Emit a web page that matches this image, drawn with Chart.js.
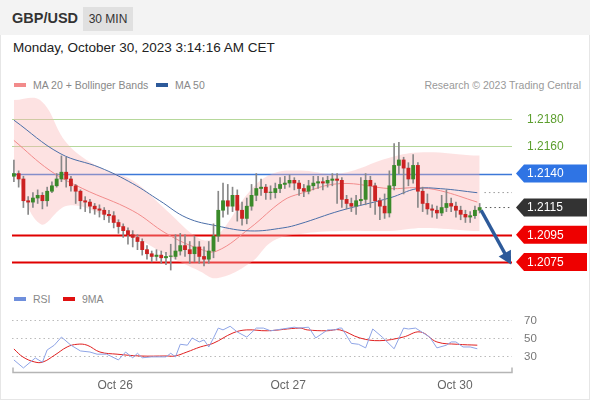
<!DOCTYPE html>
<html><head><meta charset="utf-8">
<script src="https://cdn.jsdelivr.net/npm/chart.js@4/dist/chart.umd.min.js"></script>
<style>
body{margin:0;width:590px;height:400px;overflow:hidden;font-family:Arial,"Liberation Sans",sans-serif;background:#fff}
#frame{position:absolute;left:0;top:0;width:588px;height:398px;border:1px solid #e6e6e6}
#hdr{position:absolute;left:0;top:0;width:590px;height:35px;background:#f3f3f3}
.t{position:absolute;white-space:nowrap}
canvas{position:absolute;left:0}
</style></head><body>
<div id="frame"></div>
<div id="hdr"></div>
<div class="t" style="left:12px;top:10px;font-size:14.5px;font-weight:bold;color:#333">GBP/USD</div>
<div class="t" style="left:83px;top:7px;width:50px;height:24px;background:#e0e0e0;font-size:12px;color:#333;line-height:24px;text-align:center">30 MIN</div>
<div class="t" style="left:13px;top:40px;font-size:13.5px;color:#222">Monday, October 30, 2023 3:14:16 AM CET</div>
<div class="t" style="left:14px;top:83px;width:12px;height:4px;background:#f28b8b"></div>
<div class="t" style="left:33px;top:79px;font-size:10.5px;color:#888">MA 20 + Bollinger Bands</div>
<div class="t" style="left:156px;top:83px;width:12px;height:4px;background:#2d5a9a"></div>
<div class="t" style="left:175px;top:79px;font-size:10.5px;color:#888">MA 50</div>
<div class="t" style="right:9px;top:79px;font-size:10.5px;color:#999">Research © 2023 Trading Central</div>
<div class="t" style="left:14px;top:297px;width:12px;height:4px;background:#6f8fdc"></div>
<div class="t" style="left:33px;top:293px;font-size:10.5px;color:#888">RSI</div>
<div class="t" style="left:63px;top:297px;width:12px;height:4px;background:#e01010"></div>
<div class="t" style="left:82px;top:293px;font-size:10.5px;color:#888">9MA</div>
<canvas id="main" width="590" height="190" style="top:95px"></canvas>
<canvas id="rsi" width="590" height="100" style="top:300px"></canvas>
<script>
const opens=[1.2138,1.2140,1.2136,1.2120,1.2119,1.2122,1.2124,1.2120,1.2127,1.2131,
1.2136,1.2141,1.2136,1.2131,1.2127,1.2120,1.2119,1.2116,1.2114,1.2113,
1.2110,1.2109,1.2104,1.2101,1.2098,1.2095,1.2093,1.2090,1.2084,1.2081,
1.2079,1.2080,1.2078,1.2079,1.2079,1.2083,1.2087,1.2084,1.2081,1.2086,
1.2079,1.2077,1.2083,1.2094,1.2113,1.2120,1.2116,1.2124,1.2113,1.2107,
1.2116,1.2124,1.2129,1.2130,1.2126,1.2126,1.2129,1.2132,1.2133,1.2135,
1.2133,1.2129,1.2127,1.2131,1.2133,1.2134,1.2133,1.2135,1.2136,1.2135,
1.2121,1.2118,1.2116,1.2120,1.2121,1.2135,1.2131,1.2120,1.2116,1.2111,
1.2131,1.2146,1.2150,1.2144,1.2136,1.2146,1.2127,1.2118,1.2114,1.2113,
1.2111,1.2115,1.2118,1.2116,1.2113,1.2110,1.2108,1.2109,1.2113];
const closes=[1.2140,1.2136,1.2120,1.2119,1.2122,1.2124,1.2120,1.2127,1.2131,1.2136,
1.2141,1.2136,1.2131,1.2127,1.2120,1.2119,1.2116,1.2114,1.2113,1.2110,
1.2109,1.2104,1.2101,1.2098,1.2095,1.2093,1.2090,1.2084,1.2081,1.2079,
1.2080,1.2078,1.2079,1.2079,1.2083,1.2087,1.2084,1.2081,1.2086,1.2079,
1.2077,1.2083,1.2094,1.2113,1.2120,1.2116,1.2124,1.2113,1.2107,1.2116,
1.2124,1.2129,1.2130,1.2126,1.2126,1.2129,1.2132,1.2133,1.2135,1.2133,
1.2129,1.2127,1.2131,1.2133,1.2134,1.2133,1.2135,1.2136,1.2135,1.2121,
1.2118,1.2116,1.2120,1.2121,1.2135,1.2131,1.2120,1.2116,1.2111,1.2131,
1.2146,1.2150,1.2144,1.2136,1.2146,1.2127,1.2118,1.2114,1.2113,1.2111,
1.2115,1.2118,1.2116,1.2113,1.2110,1.2108,1.2109,1.2113,1.2115];
const highs=[1.2150,1.2142,1.2138,1.2123,1.2126,1.2128,1.2126,1.2130,1.2134,1.2140,
1.2153,1.2152,1.2138,1.2132,1.2128,1.2123,1.2121,1.2118,1.2117,1.2115,
1.2113,1.2112,1.2106,1.2103,1.2100,1.2098,1.2095,1.2092,1.2087,1.2083,
1.2084,1.2083,1.2082,1.2088,1.2095,1.2096,1.2095,1.2090,1.2094,1.2090,
1.2086,1.2090,1.2103,1.2127,1.2133,1.2132,1.2130,1.2128,1.2119,1.2122,
1.2132,1.2140,1.2136,1.2132,1.2131,1.2133,1.2137,1.2138,1.2139,1.2137,
1.2135,1.2132,1.2135,1.2138,1.2138,1.2137,1.2138,1.2140,1.2140,1.2137,
1.2124,1.2122,1.2124,1.2137,1.2140,1.2138,1.2133,1.2122,1.2125,1.2142,
1.2162,1.2163,1.2152,1.2148,1.2154,1.2148,1.2130,1.2125,1.2117,1.2116,
1.2124,1.2128,1.2122,1.2119,1.2116,1.2113,1.2112,1.2116,1.2118];
const lows=[1.2134,1.2130,1.2115,1.2110,1.2115,1.2118,1.2114,1.2116,1.2126,1.2130,
1.2134,1.2130,1.2127,1.2118,1.2114,1.2112,1.2111,1.2110,1.2108,1.2106,
1.2104,1.2100,1.2096,1.2093,1.2088,1.2086,1.2084,1.2080,1.2077,1.2075,
1.2076,1.2074,1.2073,1.2069,1.2077,1.2080,1.2079,1.2074,1.2075,1.2074,
1.2072,1.2074,1.2078,1.2090,1.2108,1.2110,1.2112,1.2105,1.2102,1.2103,
1.2113,1.2120,1.2124,1.2121,1.2121,1.2122,1.2126,1.2129,1.2130,1.2128,
1.2124,1.2123,1.2125,1.2128,1.2129,1.2128,1.2130,1.2131,1.2118,1.2115,
1.2114,1.2112,1.2110,1.2117,1.2117,1.2115,1.2110,1.2106,1.2107,1.2108,
1.2128,1.2140,1.2125,1.2131,1.2133,1.2115,1.2112,1.2110,1.2108,1.2107,
1.2109,1.2112,1.2112,1.2108,1.2106,1.2104,1.2104,1.2107,1.2111];
const ma50X=[0,9.7,18.1,25,30.7,36.4,42.7,49.7,56.6,60.2,68.6,79.2,84.8,89.7,97.5];
const ma50V=[1.21793,1.21548,1.21444,1.21326,1.21200,1.21074,1.21015,1.20978,1.21000,1.21030,1.21126,1.21222,1.21289,1.21289,1.21259];
const ma20X=[0,7.6,14.5,25,32.2,39.2,42.7,49.7,56.6,60.2,68.6,79.2,84.8,89.7,97.5];
const ma20V=[1.21644,1.21422,1.21289,1.21126,1.20956,1.20844,1.20830,1.21000,1.21200,1.21252,1.21326,1.21289,1.21296,1.21274,1.21190];
const bbX=[0,5.5,11.2,18.1,25,32.2,39.2,42.7,49.7,54.5,60.2,68.6,79.2,86.1,96.6,98];
const bbUpper=[1.21941,1.21941,1.21622,1.21444,1.21348,1.21126,1.20919,1.20941,1.21274,1.21400,1.21422,1.21400,1.21519,1.21556,1.21533,1.21533];
const bbLower=[1.21444,1.21030,1.21163,1.21104,1.20950,1.20800,1.20680,1.20630,1.20741,1.20904,1.20956,1.20978,1.20978,1.21000,1.20978,1.20978];
const levels=[1.2180,1.2160,1.2140,1.2095,1.2075];
const levelLabels=["1.2180","1.2160","1.2140","1.2095","1.2075"];
const lastPrice=1.2115, lastLabel="1.2115", ma50Last=1.2126;
const arrowFrom=[98.3,1.2113], arrowTo=[104.6,1.2073];
const rsiX=[0,2,4.5,6,7,8.5,10,12,14,16,17.5,19.5,22,23.5,25,26,27,29,32,33,34,35,36.5,37.5,39,40,41,42,43,44,45.5,47,49,51,52.5,54,56.5,59,60,62,63.5,66,67.5,68.5,69,71,72.5,74,75.5,77.5,80,82,83,84.5,87.5,89,91,92,93,94.5,96,97.5];
const rsiV=[25.6,16.7,27.8,23,36.7,42,51,42,35.6,34.4,32,32,25.6,34.4,28,33,28,29,29,33,29,43,42,50,45.6,47.8,40,50,61,59,63,56.7,51,61,61,58,60,62,61,62,50,59,59,61,61,44,43,39,60,51,38,61,60,61,51,39,42,45.6,45.6,40,40,38,45.6];
const sigX=[0,1.9,4.4,6.1,8.6,11.2,13.3,15.4,18.1,21.7,26.5,32.2,33.9,36.4,39.2,41.9,46.1,49,53.3,60.2,61.7,65.9,68.6,72.8,77,81.9,85.5,89,93.3,97.5];
const sigV=[37.8,28.9,23.3,23.3,31,40,43,42,34.4,32,30,30,30,34.4,40,44,55.6,59,58,61,59,58,59,50,47,51,56.7,45.6,43,42];
const rsiLevels=[70,50,30];
const xTickPos=[21.3,57.7,92.8], xTickLabels=["Oct 26","Oct 27","Oct 30"];

const pts=(xs,vs)=>xs.map((x,i)=>({x,y:vs[i]}));
const idx=closes.map((_,i)=>i);
const FONT='Arial, "Liberation Sans", sans-serif';

function badge(ctx,x,y,text,bg,fg){
  ctx.save();
  if(bg){ctx.fillStyle=bg;ctx.beginPath();ctx.moveTo(x,y);ctx.lineTo(x+8,y-9);ctx.lineTo(x+71,y-9);ctx.lineTo(x+71,y+9);ctx.lineTo(x+8,y+9);ctx.closePath();ctx.fill();}
  ctx.fillStyle=fg;ctx.font='12px '+FONT;ctx.textBaseline='middle';ctx.fillText(text,x+11,y+0.5);ctx.restore();
}
const mainPlugin={id:'mp',
 beforeDatasetsDraw(c){const {ctx,scales:{x,y}}=c;const L=x.getPixelForValue(x.min),R=x.getPixelForValue(x.max);
  const cols=['#b6d89b','#b6d89b','#3c78d8','#e00000','#e00000'],w=[1,1,1.3,2.2,2.2];
  levels.forEach((v,i)=>{ctx.save();ctx.strokeStyle=cols[i];ctx.lineWidth=w[i];ctx.beginPath();const py=Math.round(y.getPixelForValue(v))+0.5;ctx.moveTo(L,py);ctx.lineTo(R,py);ctx.stroke();ctx.restore();});
 },
 afterDatasetsDraw(c){const {ctx,scales:{x,y}}=c;const R=x.getPixelForValue(x.max);
  ctx.save();ctx.setLineDash([1.5,3]);ctx.lineWidth=1;
  ctx.strokeStyle='#999';let py=y.getPixelForValue(ma50Last);ctx.beginPath();ctx.moveTo(x.getPixelForValue(99),py);ctx.lineTo(R,py);ctx.stroke();
  ctx.strokeStyle='#555';py=y.getPixelForValue(lastPrice);ctx.beginPath();ctx.moveTo(x.getPixelForValue(99.2),py);ctx.lineTo(R,py);ctx.stroke();ctx.restore();
  // arrow
  const x1=x.getPixelForValue(arrowFrom[0]),y1=y.getPixelForValue(arrowFrom[1]),x2=x.getPixelForValue(arrowTo[0]),y2=y.getPixelForValue(arrowTo[1]);
  const a=Math.atan2(y2-y1,x2-x1);ctx.save();ctx.strokeStyle='#2d5a9a';ctx.fillStyle='#2d5a9a';ctx.lineWidth=3.5;
  ctx.beginPath();ctx.moveTo(x1,y1);ctx.lineTo(x2-9*Math.cos(a),y2-9*Math.sin(a));ctx.stroke();
  ctx.beginPath();ctx.moveTo(x2,y2);ctx.lineTo(x2-13*Math.cos(a)+7*Math.sin(a),y2-13*Math.sin(a)-7*Math.cos(a));ctx.lineTo(x2-13*Math.cos(a)-7*Math.sin(a),y2-13*Math.sin(a)+7*Math.cos(a));ctx.closePath();ctx.fill();ctx.restore();
  const bx=R+4;
  badge(ctx,bx,y.getPixelForValue(levels[0]),levelLabels[0],null,'#5c9e2e');
  badge(ctx,bx,y.getPixelForValue(levels[1]),levelLabels[1],null,'#5c9e2e');
  badge(ctx,bx,y.getPixelForValue(levels[2]),levelLabels[2],'#2f74e4','#fff');
  badge(ctx,bx,y.getPixelForValue(lastPrice),lastLabel,'#333','#fff');
  badge(ctx,bx,y.getPixelForValue(levels[3]),levelLabels[3],'#ee0000','#fff');
  badge(ctx,bx,y.getPixelForValue(levels[4]),levelLabels[4],'#ee0000','#fff');
 }};
new Chart(document.getElementById('main'),{
 data:{datasets:[
  {type:'line',data:pts(bbX,bbUpper),borderWidth:0,pointRadius:0,tension:0.4,fill:false,order:10},
  {type:'line',data:pts(bbX,bbLower),borderWidth:0,pointRadius:0,tension:0.4,fill:'-1',backgroundColor:'rgba(250,180,180,0.38)',order:9},
  {type:'line',data:pts(ma20X,ma20V),borderColor:'#f28b8b',borderWidth:1,pointRadius:0,tension:0.4,order:8},
  {type:'line',data:pts(ma50X,ma50V),borderColor:'#4a6ea8',borderWidth:1,pointRadius:0,tension:0.4,order:7},
  {type:'bar',data:idx.map(i=>({x:i,y:[lows[i],highs[i]]})),backgroundColor:'#888',barThickness:1,grouped:false,order:2},
  {type:'bar',data:idx.map(i=>({x:i,y:[opens[i],closes[i]===opens[i]?closes[i]+0.00004:closes[i]]})),backgroundColor:idx.map(i=>closes[i]>=opens[i]?'#3a8a2a':'#cc2222'),barThickness:3.2,grouped:false,order:1}
 ]},
 options:{responsive:false,animation:false,layout:{padding:{left:12,right:78,top:0,bottom:0}},
  plugins:{legend:{display:false},tooltip:{enabled:false}},
  scales:{x:{type:'linear',display:false,min:-0.4,max:104.8,offset:false},y:{display:false,min:1.20580,max:1.21978}}},
 plugins:[mainPlugin]});

const rsiPlugin={id:'rp',
 beforeDatasetsDraw(c){const {ctx,scales:{x,y}}=c;const L=x.getPixelForValue(x.min),R=x.getPixelForValue(x.max);
  ctx.save();ctx.setLineDash([1.5,3]);ctx.strokeStyle='#bbb';ctx.lineWidth=1;ctx.font='11.5px '+FONT;ctx.fillStyle='#777';ctx.textBaseline='middle';
  rsiLevels.forEach(v=>{const py=Math.round(y.getPixelForValue(v))+0.5;ctx.beginPath();ctx.moveTo(L,py);ctx.lineTo(R,py);ctx.stroke();ctx.fillText(String(v),R+12,py);});
  ctx.restore();
  const by=c.chartArea.bottom+0.5;ctx.save();ctx.strokeStyle='#b5b5b5';ctx.lineWidth=1.5;ctx.beginPath();ctx.moveTo(L+1,by-5);ctx.lineTo(L+1,by);ctx.lineTo(R,by);ctx.lineTo(R,by-5);ctx.stroke();
  ctx.fillStyle='#666';ctx.font='12px '+FONT;ctx.textAlign='center';ctx.textBaseline='middle';
  xTickPos.forEach((p,i)=>ctx.fillText(xTickLabels[i],x.getPixelForValue(p),by+13));ctx.restore();
 }};
new Chart(document.getElementById('rsi'),{
 data:{datasets:[
  {type:'line',data:pts(rsiX,rsiV),borderColor:'#8ea4e6',borderWidth:1,pointRadius:0,tension:0},
  {type:'line',data:pts(sigX,sigV),borderColor:'#e02020',borderWidth:1,pointRadius:0,tension:0.4}
 ]},
 options:{responsive:false,animation:false,layout:{padding:{left:12,right:78,top:0,bottom:28}},
  plugins:{legend:{display:false},tooltip:{enabled:false}},
  scales:{x:{type:'linear',display:false,min:-0.4,max:104.8},y:{display:false,min:12.2,max:92.2}}},
 plugins:[rsiPlugin]});
</script></body></html>
